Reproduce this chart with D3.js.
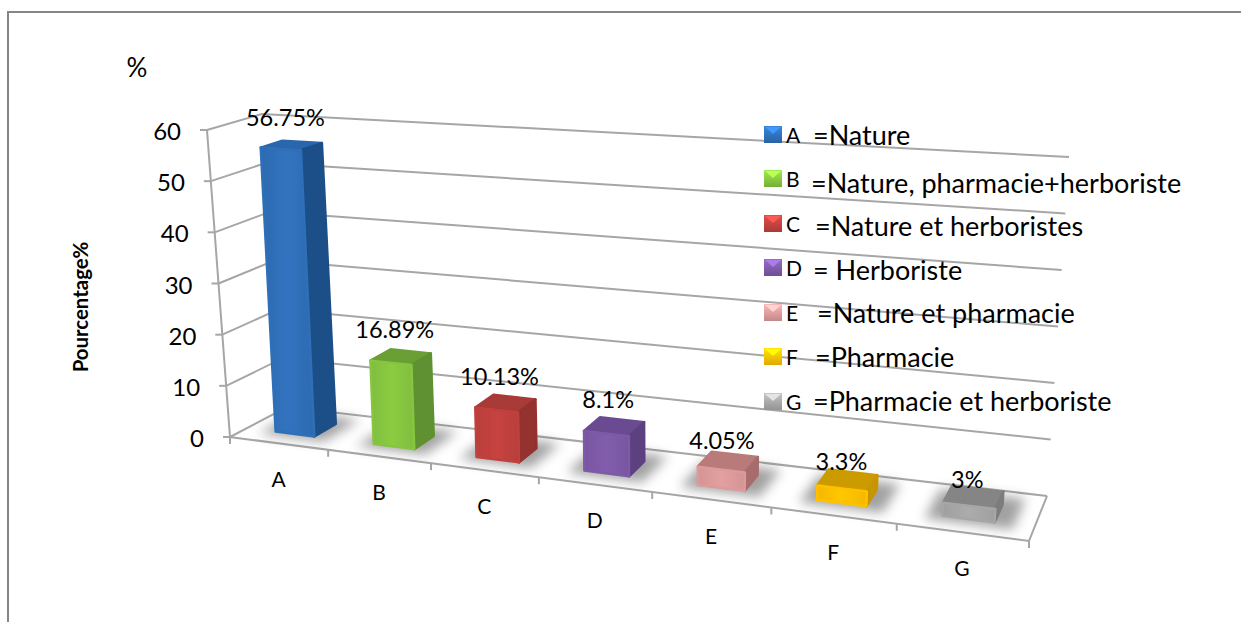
<!DOCTYPE html>
<html><head><meta charset="utf-8">
<script src="https://cdn.jsdelivr.net/npm/d3@7"></script>
<style>html,body{margin:0;padding:0;background:#fff}svg{display:block}text{font-family:Lato,"Open Sans",sans-serif;fill:#000}</style>
</head><body><svg id="c" width="1241" height="622"></svg>
<script>
const categories=["A","B","C","D","E","F","G"];
const values=[56.75,16.89,10.13,8.1,4.05,3.3,3];
const valueLabels=["56.75%","16.89%","10.13%","8.1%","4.05%","3.3%","3%"];
const legendTexts=["=Nature","=Nature, pharmacie+herboriste","=Nature et herboristes","= Herboriste","=Nature et pharmacie","=Pharmacie","=Pharmacie et herboriste"];
const yTicks=[0,10,20,30,40,50,60];
const frontColors=["#2f6fb8","#86c540","#c0413e","#7d5aa8","#dc9a9a","#ffc000","#a6a6a6"];
const sideColors=["#1f4f88","#5e9130","#93302e","#5b4080","#a96c6c","#c79500","#7c7c7c"];
const topColors=["#2a66ad","#6b9f36","#a83a37","#6a4c92","#b97a7a","#cc9b00","#858585"];
const legendRows=[143,187,232,276,321,365,410];
const legendTextX=[813,811,815,813,817,815,813];
const legendTextDy=[2,6,4,4,2,2,1];

const svg=d3.select("#c");
const defs=svg.append("defs");
defs.append("filter").attr("id","blur").attr("x","-60%").attr("y","-60%").attr("width","220%").attr("height","220%")
  .append("feGaussianBlur").attr("stdDeviation",6);
defs.append("filter").attr("id","soft").attr("x","-10%").attr("y","-10%").attr("width","120%").attr("height","120%")
  .append("feGaussianBlur").attr("stdDeviation",0.7);
frontColors.forEach((c,i)=>{
  const g=defs.append("linearGradient").attr("id","fg"+i).attr("x1",0).attr("x2",1).attr("y1",0).attr("y2",0);
  g.append("stop").attr("offset",0).attr("stop-color",d3.color(c).darker(.12));
  g.append("stop").attr("offset",.5).attr("stop-color",d3.color(c).brighter(.1));
  g.append("stop").attr("offset",1).attr("stop-color",d3.color(c).darker(.12));
  const s=defs.append("linearGradient").attr("id","sw"+i).attr("x1",0).attr("x2",0).attr("y1",0).attr("y2",1);
  s.append("stop").attr("offset",0).attr("stop-color",d3.color(c).brighter(.5));
  s.append("stop").attr("offset",1).attr("stop-color",d3.color(c).darker(.35));
});

// perspective box: corners of the 3-D plot
const C={fl0:[230,437],fl1:[207,130],bl0:[287,407],bl1:[262,114],br0:[1047,496],br1:[1069,157],fr0:[1029,541],fr1:[1052,186]};
const k=1.19;
const uScale=d3.scaleLinear().domain([0,categories.length]).range([0,1]);
const vScale=d3.scaleLinear().domain([0,60]).range([0,1]);
const labelGap=d3.scaleLinear().domain([3,4.05,8.1]).range([9,13,19]).clamp(true);
const warp=u=>u/(u+k*(1-u));
const mix=(a,b,t)=>[a[0]+(b[0]-a[0])*t,a[1]+(b[1]-a[1])*t];
function P(cat,val,d){
  const t=warp(uScale(cat)),v=vScale(val);
  const fb=mix(C.fl0,C.fr0,t),ft=mix(C.fl1,C.fr1,t),bb=mix(C.bl0,C.br0,t),bt=mix(C.bl1,C.br1,t);
  return mix(mix(fb,bb,d),mix(ft,bt,d),v);
}
// bar corners: less lean than the walls, tops set in by the bevel
function B(cat,val,d){
  const b=P(cat,0,d),p=P(cat,val,d);
  if(val===0) return b;
  return [b[0]+(p[0]-b[0])*.72,p[1]+4];
}
const line=d3.line();
const grey="#a6a6a6";

// frame
svg.append("path").attr("d",line([[8,622],[8,12],[1241,12]])).attr("fill","none").attr("stroke","#868686").attr("stroke-width",2);

// gridlines
svg.append("g").selectAll("path").data(yTicks).join("path")
  .attr("d",v=>line([P(0,v,0),P(0,v,1),P(7,v,1)])).attr("fill","none").attr("stroke",grey).attr("stroke-width",2);
// axes
svg.append("path").attr("d",line([P(0,60,0),P(0,0,0),P(7,0,0),P(7,0,1)])).attr("fill","none").attr("stroke",grey).attr("stroke-width",2);
svg.append("g").selectAll("path").data(yTicks).join("path")
  .attr("d",v=>{const p=P(0,v,0);return line([p,[p[0]-7,p[1]]]);}).attr("stroke",grey).attr("stroke-width",2);
svg.append("g").selectAll("path").data(d3.range(0,8)).join("path")
  .attr("d",i=>{const p=P(i,0,0);return line([p,[p[0],p[1]+7]]);}).attr("stroke",grey).attr("stroke-width",2);
// tick labels
svg.append("g").selectAll("text").data(yTicks).join("text")
  .attr("x",v=>P(0,v,0)[0]-26).attr("y",v=>P(0,v,0)[1]+10).attr("text-anchor","end").attr("font-size",24).text(v=>v);
svg.append("g").selectAll("text").data(categories).join("text")
  .attr("x",(c,i)=>P(i+.5,0,0)[0]).attr("y",(c,i)=>P(i+.5,0,0)[1]+44).attr("text-anchor","middle").attr("font-size",21).text(c=>c);

const a0=.3,a1=.7;
// shadows
svg.append("g").selectAll("path").data(values).join("path")
  .attr("d",(v,i)=>line([P(i+a0-.12,0,a0-.1),P(i+a1+.15,0,a0-.1),P(i+a1+.15,0,a1+.18),P(i+a0-.12,0,a1+.18)])+"Z")
  .attr("fill","#555").attr("opacity",.55).attr("filter","url(#blur)");
// bars
const bars=svg.append("g").attr("filter","url(#soft)").selectAll("g").data(values).join("g");
const face=(sel,fn,fill,stroke)=>sel.append("path").attr("d",(v,i)=>line(fn(v,i))+"Z")
  .attr("fill",fill).attr("stroke",stroke).attr("stroke-width",2.5).attr("stroke-linejoin","round");
face(bars,(v,i)=>[B(i+a0,v,a0),B(i+a1,v,a0),B(i+a1,v,a1),B(i+a0,v,a1)],(v,i)=>topColors[i],(v,i)=>topColors[i]);
face(bars,(v,i)=>[B(i+a1,0,a0),B(i+a1,v,a0),B(i+a1,v,a1),B(i+a1,0,a1)],(v,i)=>sideColors[i],(v,i)=>sideColors[i]);
face(bars,(v,i)=>[B(i+a0,0,a0),B(i+a1,0,a0),B(i+a1,v,a0),B(i+a0,v,a0)],(v,i)=>`url(#fg${i})`,(v,i)=>frontColors[i]);
// value labels
svg.append("g").selectAll("text").data(values).join("text")
  .attr("x",(v,i)=>B(i+.5,v,.5)[0]-6).attr("y",(v,i)=>B(i+.5,v,.5)[1]-labelGap(v))
  .attr("text-anchor","middle").attr("font-size",23.5).text((v,i)=>valueLabels[i]);

// legend
const lg=svg.append("g");
lg.selectAll("rect").data(categories).join("rect")
  .attr("x",764).attr("y",(c,i)=>legendRows[i]-17).attr("width",18).attr("height",17).attr("fill",(c,i)=>`url(#sw${i})`);
lg.selectAll("path").data(categories).join("path")
  .attr("d",(c,i)=>{const y=legendRows[i]-16;return line([[765,y],[781,y],[773,y+7]])+"Z";})
  .attr("fill",(c,i)=>d3.color(frontColors[i]).brighter(.9));
lg.selectAll("text.l").data(categories).join("text").attr("class","l")
  .attr("x",786).attr("y",(c,i)=>legendRows[i]).attr("font-size",21).text(c=>c);
lg.selectAll("text.t").data(legendTexts).join("text").attr("class","t")
  .attr("x",(t,i)=>legendTextX[i]).attr("y",(t,i)=>legendRows[i]+legendTextDy[i]).attr("font-size",27).text(t=>t);

// titles
svg.append("text").attr("transform","translate(88,307) rotate(-90)").attr("text-anchor","middle").attr("font-size",20.4).attr("font-weight",700).text("Pourcentage%");
svg.append("text").attr("x",137).attr("y",77).attr("text-anchor","middle").attr("font-size",26).text("%");
</script></body></html>
